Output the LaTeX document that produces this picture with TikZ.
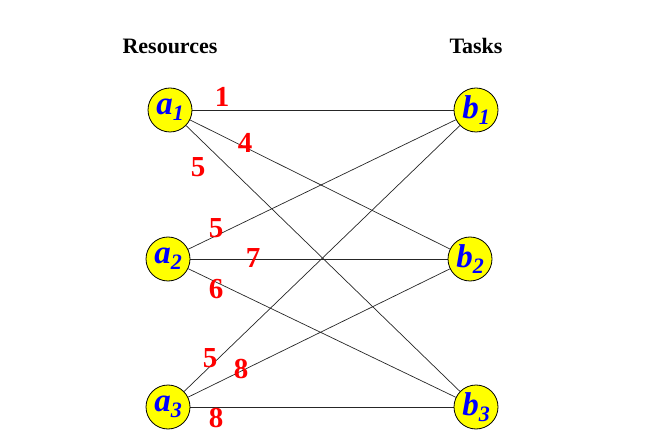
\documentclass[tikz,border=0pt]{standalone}
\usepackage{fontspec}
\setmainfont{Liberation Serif}
\usetikzlibrary{backgrounds}
\definecolor{nodeyellow}{RGB}{255,255,0}
\definecolor{lblblue}{RGB}{0,0,255}
\definecolor{lblred}{RGB}{255,0,0}
\tikzset{
  vert/.style={circle, draw=black, line width=0.8pt, fill=nodeyellow, minimum size=44pt, inner sep=0pt},
  edge/.style={draw=black!85, line width=0.7pt},
  wt/.style={text=lblred, font=\fontsize{29}{29}\selectfont\bfseries, inner sep=0pt},
  head/.style={font=\fontsize{22}{22}\selectfont\bfseries, inner sep=0pt}
}
\newcommand{\vlab}[2]{\textcolor{lblblue}{\fontsize{33}{33}\selectfont\bfseries\itshape #1\raisebox{-6pt}{\fontsize{22}{22}\selectfont #2}}}
\begin{document}
\begin{tikzpicture}[x=1pt,y=-1pt]
\useasboundingbox (0,0) rectangle (658,443);
\node[head] (hr) at (170,46) {Resources};
\node[head] (ht) at (476,46) {Tasks};
\node[vert] (a1) at (170,110) {\vlab{a}{1}};
\node[vert] (a2) at (168,259) {\vlab{a}{2}};
\node[vert] (a3) at (168,407) {\vlab{a}{3}};
\node[vert] (b1) at (476,110) {\vlab{b}{1}};
\node[vert] (b2) at (470,259) {\vlab{b}{2}};
\node[vert] (b3) at (476,407) {\vlab{b}{3}};
\begin{scope}[on background layer]
\foreach \s in {a1,a2,a3}{\foreach \t in {b1,b2,b3}{\draw[edge] (\s) -- (\t);}}
\end{scope}
\node[wt] (w11) at (222,97) {1};
\node[wt] (w12) at (245,143) {4};
\node[wt] (w13) at (198,167) {5};
\node[wt] (w21) at (216,228) {5};
\node[wt] (w22) at (253,258) {7};
\node[wt] (w23) at (216,289) {6};
\node[wt] (w31) at (210,358) {5};
\node[wt] (w32) at (241,369) {8};
\node[wt] (w33) at (216,418) {8};
\end{tikzpicture}
\end{document}
